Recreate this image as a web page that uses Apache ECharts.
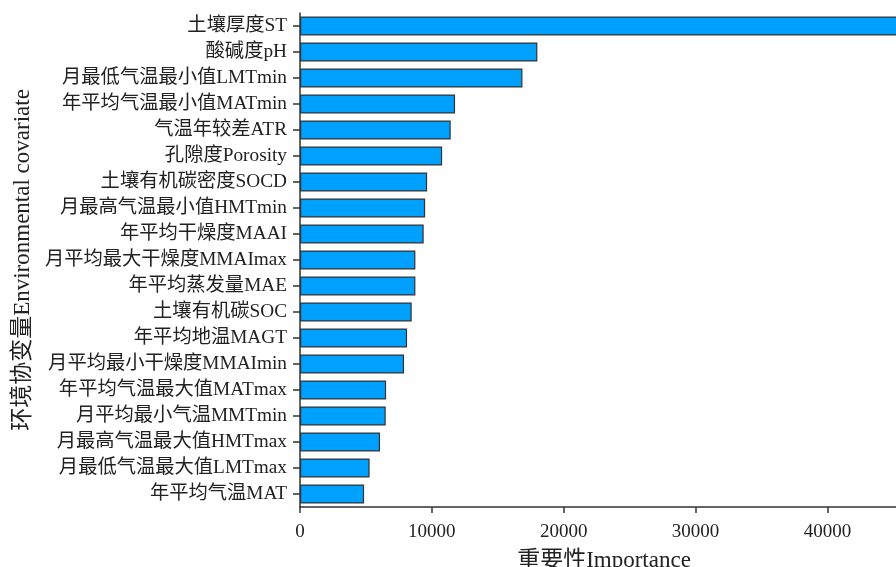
<!DOCTYPE html>
<html>
<head>
<meta charset="utf-8">
<script src="https://cdn.jsdelivr.net/npm/echarts@6/dist/echarts.min.js"></script>
<style>html,body{margin:0;padding:0;background:#fff;}#c{width:896px;height:567px;}</style>
</head>
<body>
<div id="c"></div>
<script>
const categories = [
  "土壤厚度ST","酸碱度pH","月最低气温最小值LMTmin","年平均气温最小值MATmin","气温年较差ATR",
  "孔隙度Porosity","土壤有机碳密度SOCD","月最高气温最小值HMTmin","年平均干燥度MAAI",
  "月平均最大干燥度MMAImax","年平均蒸发量MAE","土壤有机碳SOC","年平均地温MAGT",
  "月平均最小干燥度MMAImin","年平均气温最大值MATmax","月平均最小气温MMTmin",
  "月最高气温最大值HMTmax","月最低气温最大值LMTmax","年平均气温MAT"
];
const importance = [47000,18000,16870,11760,11430,10780,9640,9490,9380,8750,8750,8470,8120,7890,6530,6500,6070,5280,4860];
const xTicks = [0,10000,20000,30000,40000];

const FONT = '"Liberation Serif","Times New Roman","Noto Sans CJK SC",serif';
const chart = echarts.init(document.getElementById('c'));
chart.setOption({
  backgroundColor:'#fff',
  animation:false,
  grid:{left:300,right:-12,top:13,bottom:60,containLabel:false,outerBoundsMode:'none'},
  xAxis:{
    type:'value',min:0,max:46110,
    name:'重要性Importance',nameLocation:'middle',nameGap:42,
    nameTextStyle:{fontFamily:FONT,fontSize:23,color:'#222'},
    axisLine:{show:true,lineStyle:{color:'#333',width:1.5}},
    axisTick:{show:true,length:6,inside:false,customValues:xTicks,lineStyle:{color:'#333',width:1.5}},
    axisLabel:{fontFamily:FONT,fontSize:19,color:'#222',margin:16,customValues:xTicks,
      formatter:v=>String(v)},
    splitLine:{show:false}
  },
  yAxis:{
    type:'category',data:categories,inverse:true,
    name:'环境协变量Environmental covariate',nameLocation:'middle',nameGap:266,
    nameTextStyle:{fontFamily:FONT,fontSize:23,color:'#222'},
    axisLine:{show:true,lineStyle:{color:'#333',width:1.5}},
    axisTick:{show:true,alignWithLabel:true,interval:0,length:7,lineStyle:{color:'#333',width:1.5}},
    axisLabel:{fontFamily:FONT,fontSize:19.3,color:'#222',margin:13,interval:0}
  },
  series:[{
    type:'bar',data:importance,barWidth:19,clip:true,
    itemStyle:{color:'#00A0FF',borderColor:'#333',borderWidth:1.2}
  }]
});
</script>
</body>
</html>
